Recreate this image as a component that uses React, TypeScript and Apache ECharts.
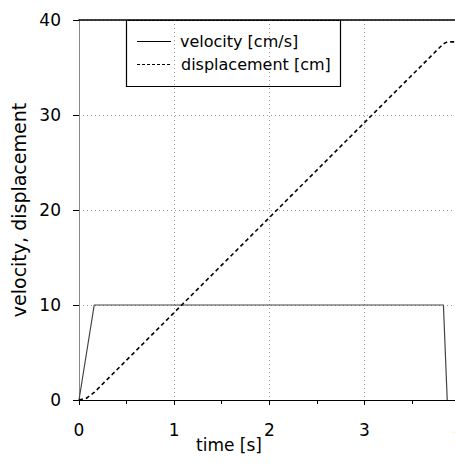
import React, { useEffect, useRef } from "react";
import * as echarts from "echarts";

const xTicks = [0, 1, 2, 3, 4];
const yTicks = [0, 10, 20, 30, 40];
const velocity: [number, number][] = [
  [0, 0],
  [0.16, 10],
  [3.83, 10],
  [3.87, 0],
];
const displacement: [number, number][] = [
  [0, 0],
  [0.08, 0.2],
  [0.16, 0.8],
  [3.83, 37.5],
  [3.87, 37.7],
  [4, 37.7],
];
const legendNames = ["velocity [cm/s]", "displacement [cm]"];
const xName = "time [s]";
const yName = "velocity, displacement";

const FONT = "DejaVu Sans";

export default function App() {
  const ref = useRef<HTMLDivElement>(null);
  useEffect(() => {
    document.body.style.margin = "0";
    document.body.style.overflow = "hidden";
    document.documentElement.style.overflow = "hidden";
    const chart = echarts.init(ref.current!, undefined, { renderer: "svg" });
    chart.setOption({
      animation: false,
      backgroundColor: "#fff",
      grid: { left: 79, top: 20, right: 2, bottom: 66, show: false },
      xAxis: [
        {
          type: "value",
          min: xTicks[0],
          max: xTicks[xTicks.length - 1],
          interval: 1,
          axisLine: { show: true, onZero: false, lineStyle: { color: "#000", width: 1 } },
          axisTick: { show: true, length: 5, lineStyle: { color: "#000" } },
          minorTick: { show: true, splitNumber: 2, length: 4, lineStyle: { color: "#000" } },
          axisLabel: { fontFamily: FONT, fontSize: 17, color: "#000", margin: 21 },
          splitLine: { show: true, lineStyle: { color: "#999", type: [1, 3], width: 1 } },
        },
        {
          type: "value",
          position: "top",
          min: xTicks[0],
          max: xTicks[xTicks.length - 1],
          axisLine: { show: true, onZero: false, lineStyle: { color: "#000", width: 1.5 } },
          axisTick: { show: false },
          axisLabel: { show: false },
          splitLine: { show: false },
        },
      ],
      yAxis: {
        type: "value",
        min: yTicks[0],
        max: yTicks[yTicks.length - 1],
        interval: 10,
        name: yName,
        nameLocation: "middle",
        nameGap: 50,
        nameTextStyle: { fontFamily: FONT, fontSize: 19, color: "#000" },
        axisLine: { show: true, onZero: false, lineStyle: { color: "#888", width: 1 } },
        axisTick: { show: true, length: 6, lineStyle: { color: "#000" } },
        axisLabel: { fontFamily: FONT, fontSize: 17, color: "#000", margin: 18 },
        splitLine: { show: true, lineStyle: { color: "#999", type: [1, 3], width: 1 } },
      },
      series: [
        {
          name: legendNames[0],
          type: "line",
          data: velocity,
          showSymbol: false,
          symbol: "none",
          lineStyle: { color: "#444", width: 1.2 },
        },
        {
          name: legendNames[1],
          type: "line",
          data: displacement,
          showSymbol: false,
          symbol: "none",
          lineStyle: { color: "#000", width: 1.6, type: [4, 3] },
        },
      ],
      graphic: [
        {
          type: "text",
          x: 229,
          y: 445,
          style: {
            text: xName,
            fontFamily: FONT,
            fontSize: 17,
            fill: "#000",
            align: "center",
            verticalAlign: "middle",
          },
        },
        {
          type: "group",
          z: 100,
          children: [
            {
              type: "rect",
              shape: { x: 126.5, y: 20.5, width: 214, height: 66 },
              style: { fill: "#fff", stroke: "#000", lineWidth: 1.2 },
            },
            {
              type: "line",
              shape: { x1: 137, y1: 41.5, x2: 171, y2: 41.5 },
              style: { stroke: "#000", lineWidth: 1 },
            },
            {
              type: "line",
              shape: { x1: 137, y1: 64.5, x2: 171, y2: 64.5 },
              style: { stroke: "#000", lineWidth: 1, lineDash: [3, 2] },
            },
            {
              type: "text",
              x: 180,
              y: 41,
              style: {
                text: legendNames[0],
                fontFamily: FONT,
                fontSize: 16,
                fill: "#000",
                verticalAlign: "middle",
              },
            },
            {
              type: "text",
              x: 181,
              y: 64,
              style: {
                text: legendNames[1],
                fontFamily: FONT,
                fontSize: 16,
                fill: "#000",
                verticalAlign: "middle",
              },
            },
          ],
        },
      ],
    });
    return () => chart.dispose();
  }, []);
  return <div ref={ref} style={{ width: 468, height: 466 }} />;
}
